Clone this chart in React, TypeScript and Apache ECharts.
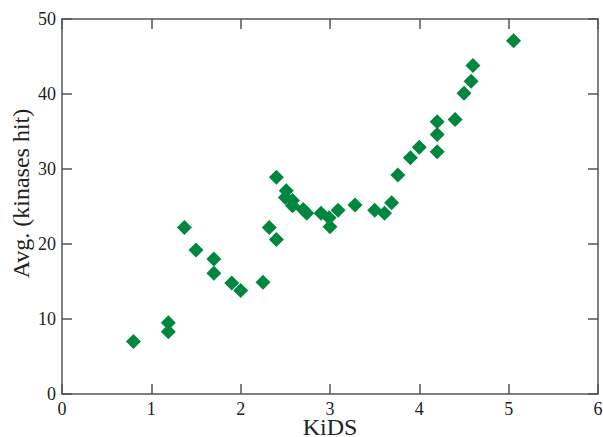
import React, { useEffect, useRef } from "react";
import * as echarts from "echarts";

const kids = [0.8, 1.19, 1.19, 1.37, 1.5, 1.7, 1.7, 1.9, 2.0, 2.25, 2.32, 2.4, 2.4, 2.51, 2.5, 2.58, 2.58, 2.7, 2.74, 2.9, 2.99, 3.0, 3.09, 3.28, 3.5, 3.61, 3.69, 3.76, 3.9, 4.0, 4.2, 4.2, 4.2, 4.4, 4.5, 4.58, 4.6, 5.055];
const avgHit = [7.0, 9.5, 8.3, 22.2, 19.2, 18.0, 16.1, 14.8, 13.8, 14.9, 22.2, 20.6, 28.9, 27.1, 26.2, 25.8, 25.1, 24.6, 24.1, 24.1, 23.5, 22.3, 24.5, 25.2, 24.5, 24.1, 25.5, 29.2, 31.5, 32.9, 32.3, 34.6, 36.3, 36.6, 40.1, 41.7, 43.8, 47.1];

const xTitle = "KiDS";
const yTitle = "Avg. (kinases hit)";

export default function App() {
  const ref = useRef<HTMLDivElement>(null);
  useEffect(() => {
    if (!ref.current) return;
    const chart = echarts.init(ref.current, undefined, { renderer: "svg" });
    const font = "Liberation Serif";
    const axisLine = () => ({ show: true, onZero: false, lineStyle: { color: "#555", width: 1.5 } });
    const tick = (c: string) => ({ show: true, inside: true, length: 10, lineStyle: { color: c, width: 1.5 } });
    const minor = () => ({ show: false, splitNumber: 2, length: 5, lineStyle: { color: "#555", width: 1.3 } });
    const label = () => ({ color: "#222", fontFamily: font, fontSize: 18 });
    chart.setOption({
      animation: false,
      backgroundColor: "#fff",
      grid: { left: 62, right: 5, top: 19, bottom: 43, outerBoundsMode: "none", containLabel: false },
      xAxis: [
        {
          type: "value", min: 0, max: 6, interval: 1, position: "bottom",
          axisLine: axisLine(), axisTick: tick("#555555"), minorTick: minor(), splitLine: { show: false },
          axisLabel: { ...label(), margin: 6 },
          name: xTitle, nameLocation: "middle", nameGap: 24, nameMoveOverlap: false,
          nameTextStyle: { color: "#222", fontFamily: font, fontSize: 24, lineHeight: 18 },
        },
        {
          type: "value", min: 0, max: 6, interval: 1, position: "top",
          axisLine: axisLine(), axisTick: tick("#555555"), minorTick: minor(), splitLine: { show: false },
          axisLabel: { show: false },
        },
      ],
      yAxis: [
        {
          type: "value", min: 0, max: 50, interval: 10, position: "left",
          axisLine: axisLine(), axisTick: tick("#555555"), minorTick: minor(), splitLine: { show: false },
          axisLabel: { ...label(), margin: 6 },
          name: yTitle, nameLocation: "middle", nameGap: 29, nameRotate: 90, nameMoveOverlap: false,
          nameTextStyle: { color: "#222", fontFamily: font, fontSize: 24, padding: [0, 0, 0, 26] },
        },
        {
          type: "value", min: 0, max: 50, interval: 10, position: "right",
          axisLine: axisLine(), axisTick: tick("#555555"), minorTick: minor(), splitLine: { show: false },
          axisLabel: { show: false },
        },
      ],
      series: [
        {
          type: "scatter",
          symbol: "diamond",
          symbolSize: 15,
          itemStyle: { color: "#00873f", opacity: 1 },
          data: kids.map((k, i) => [k, avgHit[i]]),
        },
      ],
    });
    return () => chart.dispose();
  }, []);
  return <div ref={ref} style={{ width: 603, height: 437, position: "absolute", left: 0, top: 0 }} />;
}
